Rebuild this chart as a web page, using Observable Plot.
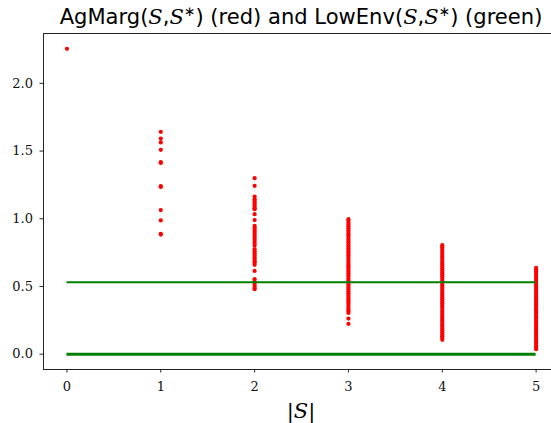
<!DOCTYPE html>
<html><head><meta charset="utf-8">
<script src="https://cdn.jsdelivr.net/npm/d3@7"></script>
<script src="https://cdn.jsdelivr.net/npm/@observablehq/plot@0.6"></script>
<style>body{margin:0;background:#fff;overflow:hidden}</style>
</head><body><div id="chart"></div>
<script>
// |S| values
const sizes = [0, 1, 2, 3, 4, 5];
// AgMarg(S,S*) values per |S| (red)
const agMarg0 = [2.255];
const agMarg1 = [1.642, 1.592, 1.564, 1.509, 1.418, 1.412, 1.241, 1.235, 1.064, 0.988, 0.889, 0.883];
const agMarg2 = [1.30, 1.243, 1.164, 1.145, 1.13, 1.118, 1.105, 1.09, 1.078, 1.071, 1.034, 0.99, 0.948, 0.935, 0.92, 0.905, 0.89, 0.875, 0.86, 0.845, 0.83, 0.815, 0.80, 0.775, 0.76, 0.745, 0.73, 0.715, 0.70, 0.685, 0.677, 0.66, 0.615, 0.554, 0.535, 0.52, 0.505, 0.49, 0.48];
const agMarg3 = [0.997, 0.985, 0.97, 0.958, 0.944, 0.93, 0.918, 0.905, 0.89, 0.878, 0.865, 0.85, 0.838, 0.825, 0.81, 0.797, 0.783, 0.77, 0.757, 0.744, 0.73, 0.717, 0.703, 0.69, 0.677, 0.663, 0.65, 0.637, 0.623, 0.61, 0.597, 0.583, 0.57, 0.557, 0.543, 0.53, 0.517, 0.503, 0.49, 0.477, 0.463, 0.45, 0.437, 0.423, 0.41, 0.397, 0.383, 0.37, 0.357, 0.343, 0.33, 0.317, 0.305, 0.263, 0.224];
const agMarg4 = [0.805, 0.79, 0.776, 0.762, 0.748, 0.733, 0.719, 0.705, 0.69, 0.676, 0.662, 0.648, 0.633, 0.619, 0.605, 0.59, 0.576, 0.562, 0.548, 0.533, 0.519, 0.505, 0.49, 0.476, 0.462, 0.448, 0.433, 0.419, 0.405, 0.39, 0.376, 0.362, 0.348, 0.333, 0.319, 0.305, 0.29, 0.276, 0.262, 0.248, 0.233, 0.219, 0.205, 0.19, 0.176, 0.162, 0.148, 0.133, 0.119, 0.106];
const agMarg5 = [0.637, 0.625, 0.612, 0.6, 0.585, 0.57, 0.556, 0.541, 0.527, 0.512, 0.498, 0.483, 0.469, 0.455, 0.44, 0.426, 0.411, 0.397, 0.382, 0.368, 0.353, 0.339, 0.325, 0.31, 0.296, 0.281, 0.267, 0.252, 0.238, 0.223, 0.209, 0.195, 0.18, 0.166, 0.151, 0.137, 0.122, 0.108, 0.093, 0.079, 0.064, 0.05, 0.037];
// LowEnv(S,S*) levels (green)
const lowEnvLevels = [0.532, 0.0];
const lowEnvWidths = [2, 3];
// tick labels
const xTicks = [0, 1, 2, 3, 4, 5];
const yTicks = [0.0, 0.5, 1.0, 1.5, 2.0];

const xDomain = [-0.25, 5.164];
const yDomain = [-0.113, 2.368];

const groups = [agMarg0, agMarg1, agMarg2, agMarg3, agMarg4, agMarg5];
const points = groups.flatMap((vals, i) => vals.map(v => ({s: sizes[i], v})));
const greens = lowEnvLevels.map((v, i) => ({v, a: sizes[0], b: sizes[sizes.length - 1], w: lowEnvWidths[i]}));

const axisColor = "#222";
const chart = Plot.plot({
  width: 551,
  height: 423,
  marginLeft: 43,
  marginRight: 0,
  marginTop: 33,
  marginBottom: 54,
  style: {fontFamily: "'DejaVu Serif', serif", fontSize: "13px", color: "#111", background: "#fff"},
  x: {domain: xDomain},
  y: {domain: yDomain},
  marks: [
    Plot.dot(points, {x: "s", y: "v", r: 2.1, fill: "#ff0000", stroke: "none"}),
    Plot.ruleY(greens, {y: "v", x1: "a", x2: "b", stroke: "#008000", strokeWidth: "w"}),
    Plot.ruleX([xDomain[0]], {stroke: axisColor, strokeWidth: 1}),
    Plot.ruleY([yDomain[0], yDomain[1]], {stroke: axisColor, strokeWidth: 1}),
    Plot.axisY(yTicks, {tickSize: 3.5, tickPadding: 7, tickFormat: d => d.toFixed(1), label: null, stroke: axisColor}),
    Plot.axisX(xTicks, {tickSize: 3.5, tickPadding: 9, tickFormat: d => String(d), label: null, stroke: axisColor})
  ]
});
document.getElementById("chart").appendChild(chart);

const svg = d3.select(chart);
// Title
const title = svg.append("text")
  .attr("x", 301).attr("y", 24)
  .attr("text-anchor", "middle")
  .style("font-family", "'DejaVu Sans', sans-serif")
  .style("font-size", "20px")
  .attr("fill", "#000");
let pendingDy = null;
const add = (t, styleFn) => {
  const ts = title.append("tspan").text(t);
  if (pendingDy) { ts.attr("dy", pendingDy); pendingDy = null; }
  if (styleFn) styleFn(ts);
  return ts;
};
const sans = t => add(t);
const mathS = () => add("S", ts => ts.style("font-family", "'DejaVu Serif', serif").style("font-style", "italic"));
const star = () => {
  add("∗", ts => ts.attr("dy", "-0.6em").style("font-size", "0.65em"));
  pendingDy = "0.39em";
};
sans("AgMarg("); mathS(); sans(","); mathS(); star(); sans(") (red) and LowEnv(");
mathS(); sans(","); mathS(); star(); sans(") (green)");
const len = title.node().getComputedTextLength();
const target = 483;
title.style("font-size", (20 * target / len).toFixed(2) + "px");

// x-axis label |S|
svg.append("text")
  .attr("x", 301).attr("y", 418)
  .attr("text-anchor", "middle")
  .style("font-family", "'DejaVu Serif', serif")
  .style("font-size", "21px")
  .attr("fill", "#000")
  .call(t => {
    t.append("tspan").text("|");
    t.append("tspan").style("font-style", "italic").text("S");
    t.append("tspan").text("|");
  });
</script>
</body></html>
